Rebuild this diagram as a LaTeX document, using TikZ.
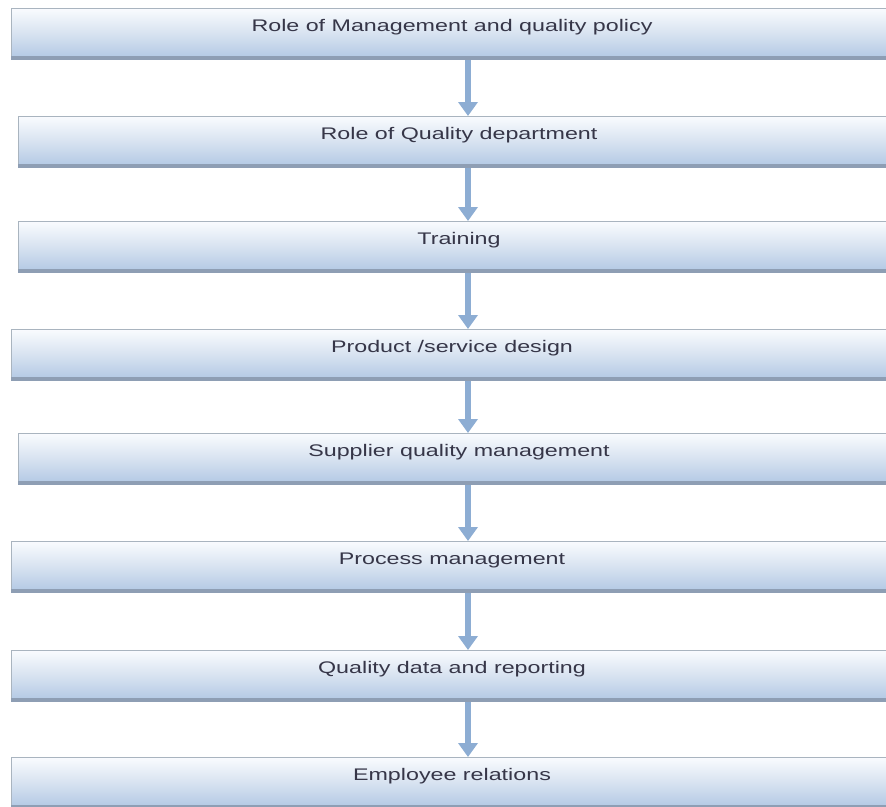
\documentclass[tikz,border=0pt]{standalone}
\usepackage{fontspec}
\setmainfont{Liberation Sans}
\usetikzlibrary{arrows.meta}

\definecolor{boxtop}{HTML}{F9FBFE}
\definecolor{boxmid}{HTML}{D9E4F1}
\definecolor{boxbot}{HTML}{B5CAE5}
\definecolor{boxedge}{HTML}{A9B4BF}
\definecolor{boxshade}{HTML}{8E9EB4}
\definecolor{arrowblue}{HTML}{8DADD3}
\definecolor{labelink}{HTML}{363648}

% labels are set wide, as in the original slide
\newcommand{\stretchtext}[1]{\scalebox{1.385}[1]{#1}}

\begin{document}
\begin{tikzpicture}[x=1pt,y=-1pt,
  stagebox/.style={rectangle, draw=boxedge, line width=0.8pt,
    top color=boxtop, bottom color=boxbot, middle color=boxmid,
    minimum width=940pt, minimum height=48pt, inner sep=0pt,
    anchor=north west},
  stageshadow/.style={fill=boxshade},
  stagelabel/.style={anchor=base, text=labelink, inner sep=0pt,
    font=\fontsize{16.8}{20}\selectfont},
  flowarrow/.style={draw=arrowblue, line width=6.5pt,
    -{Triangle[width=19pt,length=14pt]}}
]
\clip (0,0) rectangle (886,806);
\useasboundingbox (0,0) rectangle (886,806);
\fill[white] (0,0) rectangle (886,806);

% stages: left edge, top edge, name, text (boxes run off the right edge)
\foreach \x/\y/\n/\t in {
  11/8/b1/{Role of Management and quality policy},
  18/116/b2/{Role of Quality department},
  18/221/b3/{Training},
  11/329/b4/{Product /service design},
  18/433/b5/{Supplier quality management},
  11/541/b6/{Process management},
  11/650/b7/{Quality data and reporting},
  11/757/b8/{Employee relations}}{
  \node[stagebox] (\n) at (\x,\y) {};
  \fill[stageshadow] ([yshift=0.5pt]\n.south west) rectangle ([yshift=-3pt]\n.south east);
  \node[stagelabel] (\n-text) at ([xshift=441pt,yshift=-23pt]\n.north west) {\stretchtext{\t}};
}

% arrows between consecutive stages
\coordinate (axis) at (468,0);
\foreach \a/\b in {b1/b2,b2/b3,b3/b4,b4/b5,b5/b6,b6/b7,b7/b8}{
  \draw[flowarrow] ([yshift=-3pt]axis |- \a.south) -- (axis |- \b.north);
}
\end{tikzpicture}
\end{document}
